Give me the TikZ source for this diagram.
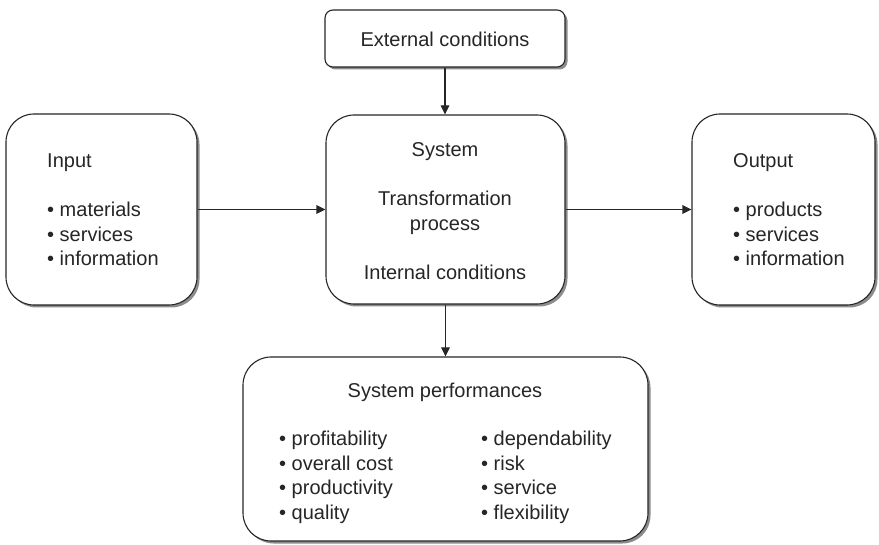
\documentclass[tikz,border=0pt]{standalone}
\usepackage{fontspec}
\setmainfont{Liberation Sans}
\usetikzlibrary{shadows,arrows.meta}
\begin{document}
\begin{tikzpicture}[x=1pt,y=-1pt,
  box/.style={draw=black!85,line width=1.1pt,fill=white,inner sep=0pt,
    drop shadow={shadow xshift=2.5pt,shadow yshift=-2.5pt,fill=black!45,opacity=1}},
  bigbox/.style={box,rounded corners=28pt},
  txt/.style={inner sep=0pt,text=black!85,font=\fontsize{20}{24.5}\selectfont},
  arr/.style={draw=black!85,line width=1.1pt,-{Triangle[length=9pt,width=8.5pt]}}
]
\useasboundingbox (0,0) rectangle (879,545);

\node[box,rounded corners=8pt,minimum width=240pt,minimum height=57pt] (ext) at (445,38.5) {};
\node[bigbox,minimum width=191pt,minimum height=191pt] (inp) at (101.5,209.5) {};
\node[bigbox,minimum width=239pt,minimum height=189pt] (sys) at (445.5,209.5) {};
\node[bigbox,minimum width=183pt,minimum height=191pt] (out) at (783.5,209.5) {};
\node[bigbox,minimum width=405pt,minimum height=184pt] (perf) at (445.5,449) {};

\node[txt] (extT) at (445,39) {External conditions};
\node[txt,align=left,anchor=west] (inpT) at (47,210) {Input\\[24.5pt]• materials\\• services\\• information};
\node[txt,align=center] (sysT) at (445,211) {System\\[24.5pt]Transformation\\process\\[24.5pt]Internal conditions};
\node[txt,align=left,anchor=west] (outT) at (733,210) {Output\\[24.5pt]• products\\• services\\• information};
\node[txt] (perfT) at (445,392) {System performances};
\node[txt,align=left,anchor=west] (perfL) at (279,477.5) {• profitability\\• overall cost\\• productivity\\• quality};
\node[txt,align=left,anchor=west] (perfR) at (481,477.5) {• dependability\\• risk\\• service\\• flexibility};

\draw[arr] (ext.south) -- (ext.south |- sys.north);
\draw[arr] (inp.east) -- (sys.west);
\draw[arr] (sys.east) -- (out.west);
\draw[arr] (sys.south) -- (sys.south |- perf.north);
\end{tikzpicture}
\end{document}
